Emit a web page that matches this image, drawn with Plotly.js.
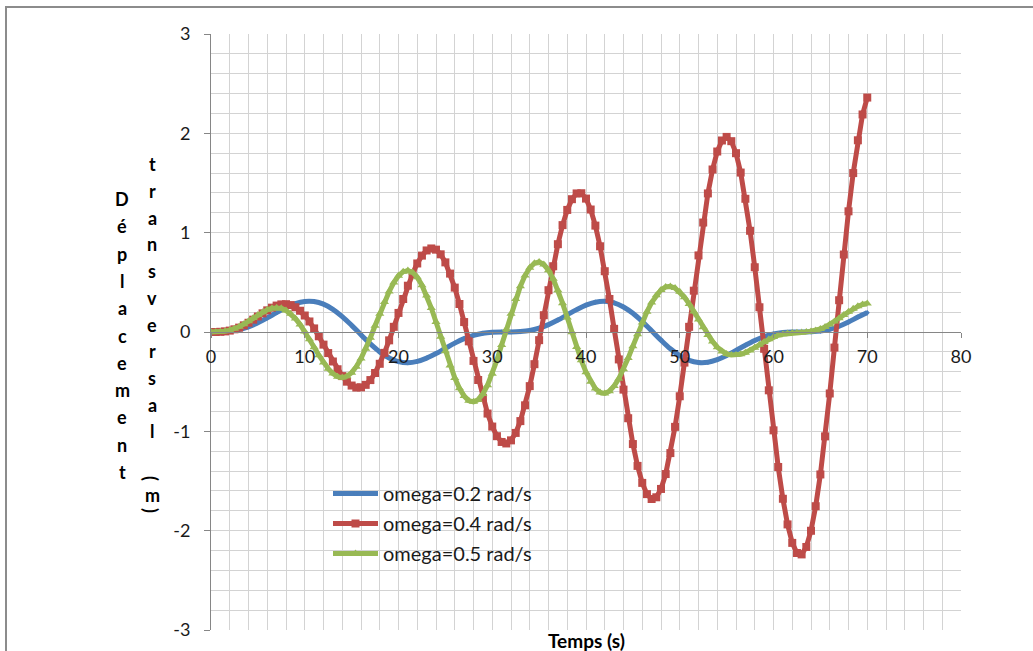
<!DOCTYPE html>
<html>
<head>
<meta charset="utf-8">
<script src="https://cdn.plot.ly/plotly-3.0.1.min.js"></script>
<style>
html,body{margin:0;padding:0;background:#fff;}
#chart{width:1033px;height:651px;}
</style>
</head>
<body>
<div id="chart"></div>
<script>
// ---- data ----
const seriesNames = ['omega=0.2 rad/s', 'omega=0.4 rad/s', 'omega=0.5 rad/s'];

const xTickVals = [0, 10, 20, 30, 40, 50, 60, 70, 80];
const xTickText = ['0', '10', '20', '30', '40', '50', '60', '70', '80'];
const yTickVals = [-3, -2, -1, 0, 1, 2, 3];
const yTickText = ['-3', '-2', '-1', '0', '1', '2', '3'];

const timeCoarse = [0,1,2,3,4,5,6,7,8,9,10,11,12,13,14,15,16,17,18,19,20,21,22,23,24,25,26,27,28,29,30,31,32,33,34,35,36,37,38,39,40,41,42,43,44,45,46,47,48,49,50,51,52,53,54,55,56,57,58,59,60,61,62,63,64,65,66,67,68,69,70];

const timeFine = [0,0.5,1,1.5,2,2.5,3,3.5,4,4.5,5,5.5,6,6.5,7,7.5,8,8.5,9,9.5,10,10.5,11,11.5,12,12.5,13,13.5,14,14.5,15,15.5,16,16.5,17,17.5,18,18.5,19,19.5,20,20.5,21,21.5,22,22.5,23,23.5,24,24.5,25,25.5,26,26.5,27,27.5,28,28.5,29,29.5,30,30.5,31,31.5,32,32.5,33,33.5,34,34.5,35,35.5,36,36.5,37,37.5,38,38.5,39,39.5,40,40.5,41,41.5,42,42.5,43,43.5,44,44.5,45,45.5,46,46.5,47,47.5,48,48.5,49,49.5,50,50.5,51,51.5,52,52.5,53,53.5,54,54.5,55,55.5,56,56.5,57,57.5,58,58.5,59,59.5,60,60.5,61,61.5,62,62.5,63,63.5,64,64.5,65,65.5,66,66.5,67,67.5,68,68.5,69,69.5,70];

const dispOmega02 = [0,0.001,0.007,0.024,0.052,0.092,0.142,0.195,0.245,0.285,0.307,0.306,0.280,0.228,0.155,0.067,-0.028,-0.120,-0.200,-0.261,-0.298,-0.309,-0.296,-0.263,-0.217,-0.164,-0.112,-0.067,-0.034,-0.013,-0.003,0.000,0.000,0.004,0.015,0.039,0.074,0.120,0.173,0.225,0.270,0.300,0.309,0.294,0.252,0.188,0.105,0.012,-0.082,-0.169,-0.238,-0.286,-0.308,-0.305,-0.279,-0.237,-0.186,-0.133,-0.085,-0.046,-0.020,-0.006,-0.001,0.000,0.002,0.009,0.027,0.058,0.100,0.150,0.195];

const dispOmega04 = [0,0.000,0.002,0.006,0.014,0.027,0.044,0.067,0.093,0.124,0.156,0.188,0.218,0.245,0.266,0.278,0.280,0.271,0.249,0.214,0.166,0.106,0.036,-0.043,-0.127,-0.212,-0.297,-0.375,-0.444,-0.500,-0.539,-0.559,-0.557,-0.532,-0.484,-0.413,-0.320,-0.210,-0.084,0.052,0.192,0.332,0.466,0.587,0.690,0.769,0.821,0.841,0.829,0.782,0.701,0.588,0.447,0.282,0.100,-0.094,-0.291,-0.483,-0.662,-0.821,-0.952,-1.049,-1.107,-1.122,-1.091,-1.016,-0.897,-0.738,-0.545,-0.324,-0.082,0.169,0.421,0.662,0.884,1.076,1.229,1.337,1.395,1.397,1.343,1.233,1.071,0.863,0.612,0.332,0.032,-0.276,-0.580,-0.868,-1.128,-1.348,-1.519,-1.632,-1.681,-1.664,-1.580,-1.430,-1.219,-0.955,-0.647,-0.308,0.052,0.416,0.771,1.102,1.395,1.636,1.817,1.928,1.964,1.921,1.800,1.605,1.341,1.019,0.652,0.249,-0.169,-0.587,-0.990,-1.359,-1.679,-1.937,-2.123,-2.225,-2.239,-2.164,-2.001,-1.754,-1.434,-1.051,-0.619,-0.157,0.320,0.780,1.215,1.600,1.930,2.190,2.360];

const dispOmega05 = [0,0.000,0.002,0.008,0.018,0.033,0.053,0.079,0.108,0.140,0.171,0.200,0.223,0.239,0.244,0.238,0.217,0.183,0.135,0.075,0.004,-0.073,-0.154,-0.233,-0.307,-0.370,-0.419,-0.450,-0.459,-0.446,-0.409,-0.349,-0.268,-0.169,-0.057,0.063,0.184,0.302,0.408,0.498,0.566,0.607,0.619,0.600,0.550,0.471,0.367,0.241,0.101,-0.047,-0.195,-0.336,-0.462,-0.567,-0.645,-0.691,-0.703,-0.681,-0.624,-0.535,-0.420,-0.283,-0.131,0.027,0.183,0.331,0.461,0.568,0.646,0.692,0.705,0.679,0.622,0.535,0.420,0.290,0.146,-0.003,-0.150,-0.285,-0.404,-0.501,-0.570,-0.609,-0.618,-0.596,-0.544,-0.470,-0.374,-0.263,-0.143,-0.022,0.096,0.204,0.297,0.371,0.424,0.453,0.459,0.442,0.404,0.350,0.283,0.207,0.127,0.047,-0.029,-0.096,-0.153,-0.196,-0.222,-0.232,-0.232,-0.224,-0.208,-0.186,-0.158,-0.129,-0.100,-0.073,-0.050,-0.033,-0.022,-0.015,-0.011,-0.008,-0.005,-0.001,0.006,0.016,0.030,0.050,0.075,0.105,0.138,0.172,0.205,0.234,0.258,0.277,0.288];

const xTitle = 'Temps (s)';
const yTitleCol1 = 'Déplacement';
const yTitleCol2 = 'transversal (m)';

// ---- layout helpers (pixel -> paper) ----
const W = 1033, H = 651;
const M = {l: 211, r: 72, t: 34, b: 21};
const PW = W - M.l - M.r, PH = H - M.t - M.b;
const px = x => (x - M.l) / PW;
const py = y => (H - M.b - y) / PH;

const FONT = 'Lato, "Open Sans", "DejaVu Sans", sans-serif';
const GRID = '#d3d3d3';
const AXIS = '#868686';
const TXT = '#1a1a1a';

const traces = [
  {x: timeCoarse, y: dispOmega02, name: seriesNames[0], type: 'scatter', mode: 'lines+markers',
   line: {color: '#4A7EBB', width: 5, shape: 'spline'},
   marker: {symbol: 'diamond', size: 4, color: '#4A7EBB'}, legendgroup: 'a'},
  {x: timeFine, y: dispOmega04, name: seriesNames[1], type: 'scatter', mode: 'lines+markers',
   line: {color: '#BE4B48', width: 5},
   marker: {symbol: 'square', size: 8, color: '#BE4B48'}, legendgroup: 'b'},
  {x: timeFine, y: dispOmega05, name: seriesNames[2], type: 'scatter', mode: 'lines+markers',
   line: {color: '#98B954', width: 5},
   marker: {symbol: 'triangle-up', size: 8, color: '#98B954'}, legendgroup: 'c'}
];

const annotations = [];
const titleFont = {family: FONT, size: 18, color: '#000', weight: 'bold'};
// stacked vertical y-axis title, column 1
Array.from(yTitleCol1).forEach((ch, i) => {
  annotations.push({xref: 'paper', yref: 'paper', x: px(122), y: py(199 + i * 27.3),
    text: ch, showarrow: false, xanchor: 'center', yanchor: 'middle', font: titleFont});
});
// column 2
const col2 = Array.from(yTitleCol2.replace(' ', ''));
const col2Y = [164,191,218,244,271,298,325,351,378,405,431,478,495,510];
col2.forEach((ch, i) => {
  const rot = (ch === '(' || ch === ')');
  annotations.push({xref: 'paper', yref: 'paper', x: px(rot ? 151 : 152), y: py(col2Y[i]),
    text: ch, showarrow: false, xanchor: 'center', yanchor: 'middle', textangle: rot ? 90 : 0,
    font: titleFont});
});
// x title
annotations.push({xref: 'paper', yref: 'paper', x: px(586), y: py(640), text: xTitle,
  showarrow: false, xanchor: 'center', yanchor: 'middle',
  font: {family: FONT, size: 19, color: '#000', weight: 'bold'}});

const layout = {
  width: W, height: H,
  margin: M,
  paper_bgcolor: '#fff', plot_bgcolor: '#fff',
  font: {family: FONT, size: 17, color: TXT},
  showlegend: true,
  legend: {x: px(328), y: py(474), xanchor: 'left', yanchor: 'top',
    bgcolor: 'rgba(0,0,0,0)', borderwidth: 0, itemwidth: 45, tracegroupgap: 1,
    traceorder: 'grouped', font: {family: FONT, size: 20, color: TXT}},
  xaxis: {range: [0, 80], tickmode: 'array', tickvals: xTickVals, ticktext: xTickText,
    anchor: 'free', position: 0.5,
    showline: true, linecolor: AXIS, linewidth: 1, ticks: 'outside', ticklen: 5, tickcolor: AXIS,
    showgrid: true, gridcolor: GRID, gridwidth: 1, zeroline: false,
    minor: {dtick: 2, tick0: 0, showgrid: true, gridcolor: GRID, gridwidth: 1},
    tickfont: {family: FONT, size: 18, color: TXT}, ticklabelstandoff: 3, fixedrange: true},
  yaxis: {range: [-3, 3], tickmode: 'array', tickvals: yTickVals, ticktext: yTickText,
    showline: true, linecolor: AXIS, linewidth: 1, ticks: 'outside', ticklen: 6, tickcolor: AXIS,
    showgrid: true, gridcolor: GRID, gridwidth: 1, zeroline: false,
    minor: {dtick: 0.2, tick0: 0, showgrid: true, gridcolor: GRID, gridwidth: 1},
    tickfont: {family: FONT, size: 18, color: TXT}, ticklabelstandoff: 10, fixedrange: true},
  annotations: annotations,
  shapes: [
    {type: 'rect', xref: 'paper', yref: 'paper', x0: px(6), x1: px(1045), y0: py(665), y1: py(7),
     line: {color: '#8c8c8c', width: 2}, fillcolor: 'rgba(0,0,0,0)', layer: 'above'}
  ]
};

Plotly.newPlot('chart', traces, layout, {staticPlot: true, displayModeBar: false});
</script>
</body>
</html>
